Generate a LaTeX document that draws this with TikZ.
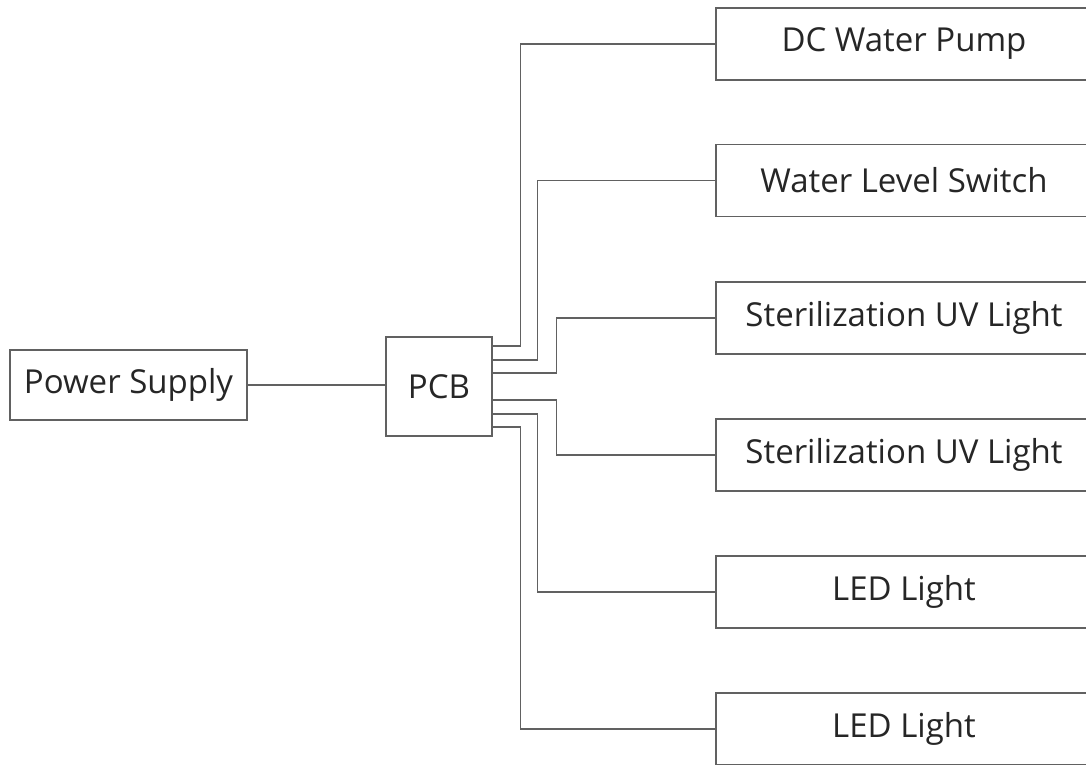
\documentclass[tikz,border=0pt]{standalone}
\usepackage{fontspec}
\setmainfont{Open Sans}
\begin{document}
\begin{tikzpicture}[x=1pt,y=1pt,
  box/.style={draw=black!62,line width=1.4pt,fill=white,inner sep=0pt,text=black!85,font=\fontsize{33}{38}\selectfont},
  rbox/.style={box,minimum width=376pt,minimum height=72pt},
  wire/.style={draw=black!62,line width=1.4pt}]
\useasboundingbox (0,0) rectangle (1086,-764);
\fill[white] (0,0) rectangle (1086,-764);
\node[box,minimum width=237pt,minimum height=70pt] (ps) at (128.5,-385) {Power Supply};
\node[box,minimum width=106pt,minimum height=99pt] (pcb) at (439,-386.5) {PCB};
\node[rbox] (b1) at (904,-44) {DC Water Pump};
\node[rbox] (b2) at (904,-180.5) {Water Level Switch};
\node[rbox] (b3) at (904,-318) {Sterilization UV Light};
\node[rbox] (b4) at (904,-455) {Sterilization UV Light};
\node[rbox] (b5) at (904,-592) {LED Light};
\node[rbox] (b6) at (904,-729) {LED Light};
\draw[wire] (ps.east) -- (ps.east -| pcb.west);
\draw[wire] ([yshift=40.5pt]pcb.east) -- ++(28,0) |- (b1.west);
\draw[wire] ([yshift=26.5pt]pcb.east) -- ++(45,0) |- (b2.west);
\draw[wire] ([yshift=13.5pt]pcb.east) -- ++(64,0) |- (b3.west);
\draw[wire] ([yshift=-13.5pt]pcb.east) -- ++(64,0) |- (b4.west);
\draw[wire] ([yshift=-27.5pt]pcb.east) -- ++(45,0) |- (b5.west);
\draw[wire] ([yshift=-40.5pt]pcb.east) -- ++(28,0) |- (b6.west);
\end{tikzpicture}
\end{document}
